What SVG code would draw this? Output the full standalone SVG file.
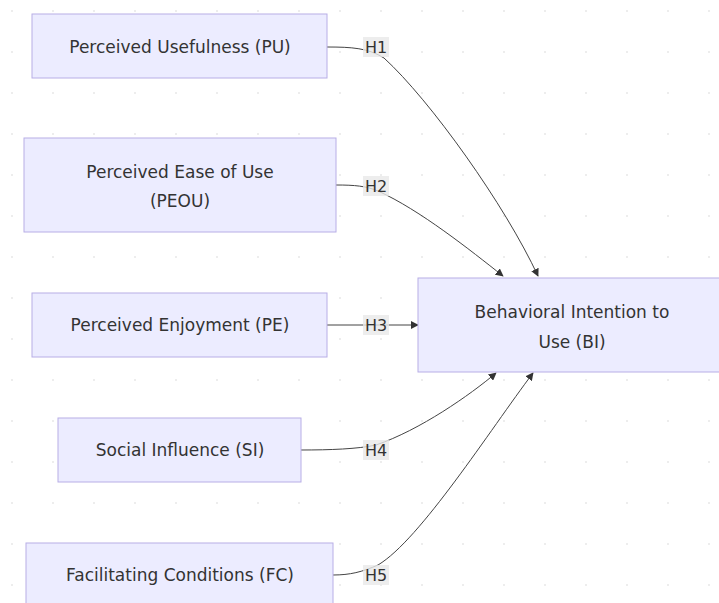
<svg xmlns="http://www.w3.org/2000/svg" width="719" height="603" viewBox="0 0 719 603">
<defs>
<pattern id="grid" x="11" y="10" width="41" height="41" patternUnits="userSpaceOnUse">
<rect x="0" y="0" width="2" height="2" fill="#ededed"/>
</pattern>
<marker id="arr" viewBox="0 0 10 10" refX="9" refY="5" markerWidth="8" markerHeight="8" orient="auto" markerUnits="userSpaceOnUse">
<path d="M0,0 L10,5 L0,10 z" fill="#333"/>
</marker>
<style>
.node rect{fill:#ECECFF;stroke:#b8aee6;stroke-width:1}
.node text{font-family:"DejaVu Sans","Verdana",sans-serif;font-size:17px;fill:#333;text-anchor:middle;dominant-baseline:central}
.edges path{fill:none;stroke:#444;stroke-width:1}
.lbl rect{fill:#e8e8e8;opacity:0.8}
.lbl text{font-family:"DejaVu Sans","Verdana",sans-serif;font-size:16px;fill:#333;text-anchor:middle;dominant-baseline:central}
</style>
</defs>
<rect width="719" height="603" fill="#ffffff"/>
<rect width="719" height="603" fill="url(#grid)"/>
<g class="edges" id="connectors">
<path d="M327,47 C352,47 368,48 384,58 C430,100 505,205 538,276" marker-end="url(#arr)"/>
<path d="M336,185 C355,185 366,186 378,191 C420,210 470,250 503,276" marker-end="url(#arr)"/>
<path d="M327,325 L418,325" marker-end="url(#arr)"/>
<path d="M301,450 C330,450 358,449 376,445 C420,430 470,395 496,373" marker-end="url(#arr)"/>
<path d="M333,575 C350,575 362,572 378,565 C420,540 490,430 533,373" marker-end="url(#arr)"/>
</g>
<g class="lbl" id="labels">
<g id="lbl-h1"><rect x="363" y="37" width="26" height="20"/><text x="376" y="47">H1</text></g>
<g id="lbl-h2"><rect x="363" y="176" width="26" height="20"/><text x="376" y="186">H2</text></g>
<g id="lbl-h3"><rect x="363" y="315" width="26" height="20"/><text x="376" y="325">H3</text></g>
<g id="lbl-h4"><rect x="363" y="440" width="26" height="20"/><text x="376" y="450">H4</text></g>
<g id="lbl-h5"><rect x="363" y="565" width="26" height="20"/><text x="376" y="575">H5</text></g>
</g>
<g class="node" id="PU"><rect x="32" y="14" width="295" height="64"/><text x="180" y="47">Perceived Usefulness (PU)</text></g>
<g class="node" id="PEOU"><rect x="24" y="138" width="312" height="94"/><text x="180" y="172">Perceived Ease of Use</text><text x="180" y="201">(PEOU)</text></g>
<g class="node" id="PE"><rect x="32" y="293" width="295" height="64"/><text x="180" y="325">Perceived Enjoyment (PE)</text></g>
<g class="node" id="SI"><rect x="58" y="418" width="243" height="64"/><text x="180" y="450">Social Influence (SI)</text></g>
<g class="node" id="FC"><rect x="26" y="543" width="307" height="64"/><text x="180" y="575">Facilitating Conditions (FC)</text></g>
<g class="node" id="BI"><rect x="418" y="278" width="310" height="94"/><text x="572" y="312">Behavioral Intention to</text><text x="572" y="342">Use (BI)</text></g>
</svg>
